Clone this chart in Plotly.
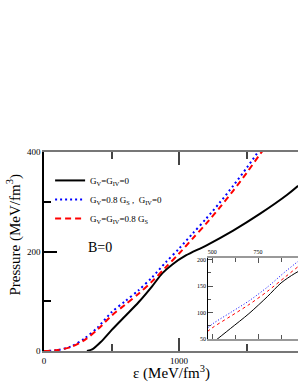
import plotly.graph_objects as go

# ---- data ----
eps_k = [318, 360, 420, 500, 600, 700, 800, 875, 950, 1050, 1200, 1400, 1600, 1800, 1881]
p_k = [0, 4, 18, 42, 70, 98, 130, 156, 174, 192, 212, 242, 276, 314, 332]

eps_b = [0, 100, 200, 300, 400, 500, 600, 700, 800, 900, 1000, 1100, 1200, 1300, 1400, 1500, 1600]
p_b = [0, 2, 9, 25, 48, 78, 100, 122, 148, 178, 206, 236, 266, 298, 332, 368, 406]

eps_r = [0, 100, 200, 300, 400, 500, 600, 700, 800, 900, 1000, 1100, 1200, 1300, 1400, 1500, 1600, 1620]
p_r = [0, 2, 8, 22, 44, 71, 93, 115, 140, 168, 196, 226, 256, 288, 322, 358, 396, 403]

names = ["G<sub>V</sub>=G<sub>IV</sub>=0",
         "G<sub>V</sub>=0.8 G<sub>S</sub> ,  G<sub>IV</sub>=0",
         "G<sub>V</sub>=G<sub>IV</sub>=0.8 G<sub>S</sub>"]

FONT = "Liberation Serif"

fig = go.Figure()
series = [(eps_k, p_k, "black", "solid", 2),
          (eps_b, p_b, "#0000ff", "2px,3px", 2),
          (eps_r, p_r, "#ff0000", "6px,4px", 2)]
for (x, y, c, d, w), n in zip(series, names):
    fig.add_trace(go.Scatter(x=x, y=y, mode="lines", name=n,
                             line=dict(color=c, dash=d, width=w, shape="spline", smoothing=0.8),
                             xaxis="x", yaxis="y"))
inset_dash = ["solid", "1px,2px", "3px,3px"]
for (x, y, c, d, w), n, d2 in zip(series, names, inset_dash):
    fig.add_trace(go.Scatter(x=x, y=y, mode="lines", name=n, showlegend=False,
                             line=dict(color=c, dash=d2, width=1, shape="spline", smoothing=0.8),
                             xaxis="x2", yaxis="y2"))

fig.update_layout(
    width=298, height=385,
    margin=dict(l=44, r=0, t=152, b=34),
    paper_bgcolor="white", plot_bgcolor="white",
    font=dict(family=FONT, color="black", size=9),
    showlegend=True,
    legend=dict(x=0.024, y=0.93, xanchor="left", yanchor="top",
                bgcolor="rgba(0,0,0,0)", font=dict(size=9, family=FONT),
                itemwidth=30, tracegroupgap=0),
    xaxis=dict(domain=[0, 1], range=[0, 1880], showgrid=False, zeroline=False,
               automargin=False,
               showline=True, linecolor="#777", linewidth=2, mirror="allticks",
               ticks="inside", ticklen=13, tickcolor="#444", tickwidth=1.5,
               tickvals=[0, 1000], ticktext=["0", "1000"],
               minor=dict(tickvals=[500, 1500], ticklen=7, ticks="inside", tickcolor="#444"),
               tickfont=dict(size=9)),
    yaxis=dict(domain=[0, 1], range=[0, 400], showgrid=False, zeroline=False,
               automargin=False,
               showline=True, linecolor="black", linewidth=1.5, mirror=False,
               ticks="inside", ticklen=13, tickcolor="black", tickwidth=1.5,
               tickvals=[0, 200, 400],
               minor=dict(tickvals=[100, 300], ticklen=7, ticks="inside", tickcolor="black"),
               tickfont=dict(size=9)),
    xaxis2=dict(domain=[0.646, 1.0], range=[478, 967], anchor="y2", side="top",
                automargin=False,
                showgrid=False, zeroline=False, showline=True, linecolor="#999",
                linewidth=2, mirror="allticks", ticks="inside", ticklen=5,
                tickcolor="#555", tickvals=[500, 750],
                minor=dict(tickvals=[625, 875], ticklen=4, ticks="inside", tickcolor="#555"),
                tickfont=dict(size=6)),
    yaxis2=dict(domain=[0.06, 0.467], range=[50, 203], anchor="x2",
                automargin=False,
                showgrid=False, zeroline=False, showline=True, linecolor="black",
                linewidth=1, ticks="inside", ticklen=5, tickcolor="#555",
                tickvals=[50, 100, 150, 200],
                minor=dict(tickvals=[75, 125, 175], ticklen=3, ticks="inside", tickcolor="#555"),
                tickfont=dict(size=6)),
    annotations=[
        dict(text="B=0", x=0.165, y=0.52, xref="paper", yref="paper",
             showarrow=False, font=dict(size=14, family=FONT)),
        dict(text="ε (MeV/fm<sup>3</sup>)", x=0.5, y=-0.11, xref="paper", yref="paper",
             xanchor="center", yanchor="middle", showarrow=False,
             font=dict(size=15, family=FONT)),
        dict(text="Pressure (MeV/fm<sup>3</sup>)", x=-0.118, y=0.58, xref="paper", yref="paper",
             xanchor="center", yanchor="middle", textangle=-90, showarrow=False,
             font=dict(size=15, family=FONT)),
    ],
)

fig.write_html("out.html", config={"displayModeBar": False},
               post_script="document.body.style.margin='0px';document.body.style.overflow='hidden';")
